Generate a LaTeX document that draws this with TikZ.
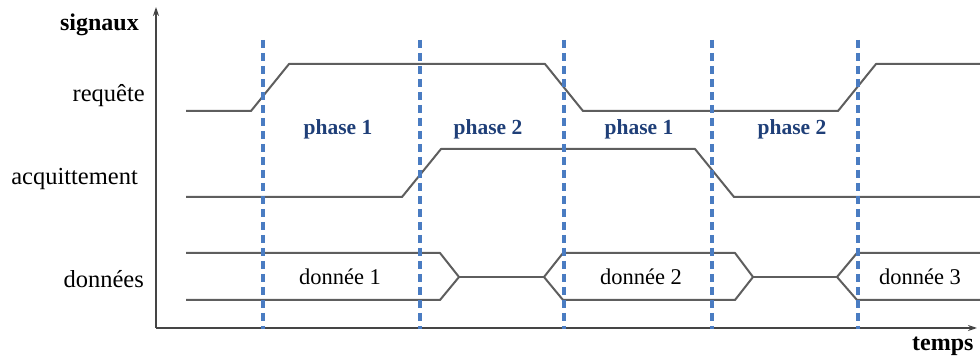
\documentclass[tikz,border=0pt]{standalone}
\usepackage{fontspec}
\setmainfont{Liberation Serif}
\usetikzlibrary{arrows.meta}
\definecolor{sig}{HTML}{5E5E5E}
\definecolor{axe}{HTML}{454545}
\definecolor{dash}{HTML}{4A7CC2}
\definecolor{phasec}{HTML}{1F3F78}
\tikzset{
  signal/.style={draw=sig, line width=2pt, line join=round},
  axis/.style={draw=axe, line width=1.6pt, -{Stealth[length=9pt,width=6pt]}},
  border/.style={draw=dash, line width=3.4pt, dash pattern=on 8pt off 5pt},
  lbl/.style={font=\fontsize{24.5}{28}\selectfont, anchor=base east, inner sep=0pt},
  blbl/.style={font=\fontsize{24}{28}\selectfont\bfseries, inner sep=0pt},
  phase/.style={font=\fontsize{21.5}{26}\selectfont\bfseries, text=phasec, anchor=base, inner sep=0pt},
  data/.style={font=\fontsize{22.5}{27}\selectfont, anchor=base, inner sep=0pt}
}
\begin{document}
\begin{tikzpicture}[x=1pt,y=-1pt]
\useasboundingbox (0,0) rectangle (980,363);
% axes
\coordinate (O) at (156,328);
\coordinate (Ytop) at (156,7);
\coordinate (Xend) at (977,328);
\draw[axis] (O) -- (Ytop);
\draw[axis] (O) -- (Xend);
% labels
\node[blbl, anchor=base east] (signaux) at (139,31) {signaux};
\node[lbl] (req) at (145,102) {requête};
\node[lbl] (acq) at (138,185) {acquittement};
\node[lbl] (don) at (144,288) {données};
\node[blbl, anchor=base west] (temps) at (912,350) {temps};
% requete
\draw[signal] (186,111) -- (251,111) -- (289,64) -- (545,64) -- (583,111) -- (838,111) -- (876,64) -- (980,64);
% acquittement
\draw[signal] (186,197) -- (402,197) -- (441,149) -- (695,149) -- (734,197) -- (980,197);
% donnees
\draw[signal] (186,253) -- (440,253) -- (459,277) -- (440,300) -- (186,300);
\draw[signal] (459,277) -- (544,277);
\draw[signal] (980,253) -- (857,253) -- (837,277) -- (857,300) -- (980,300);
\draw[signal] (753,277) -- (837,277);
\draw[signal] (563,253) -- (735,253) -- (753,277) -- (735,300) -- (563,300) -- (544,277) -- cycle;
% dashed phase borders
\foreach \x in {263,420,564,712,858} \draw[border] (\x,40) -- (\x,329);
% phase labels
\node[phase] (p1a) at (338,135) {phase 1};
\node[phase] (p2a) at (488,135) {phase 2};
\node[phase] (p1b) at (639,135) {phase 1};
\node[phase] (p2b) at (792,135) {phase 2};
% data labels
\node[data] (d1) at (340,285) {donnée 1};
\node[data] (d2) at (641,285) {donnée 2};
\node[data] (d3) at (920,285) {donnée 3};
\end{tikzpicture}
\end{document}
